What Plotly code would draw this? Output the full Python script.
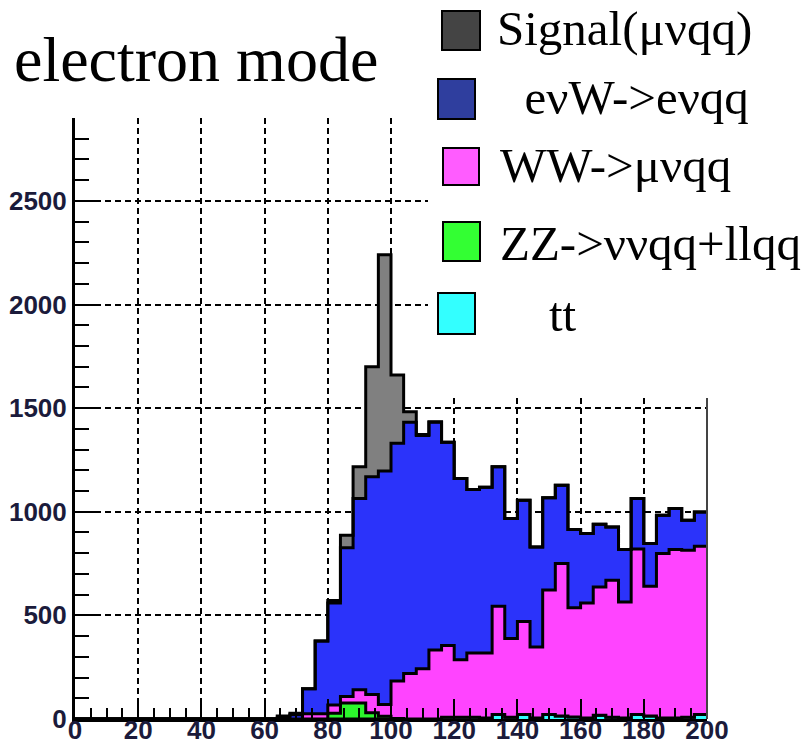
import plotly.graph_objects as go

# ---- data: 4-unit bins from 0 to 200 (bin low edges) ----
BIN_LOW = list(range(0, 200, 4))
X_MAX = 200

tt = [0]*20 + [0, 0, 0, 0, 0, 0, 0, 0, 0, 8] + \
     [8, 8, 5, 22, 8, 22, 5, 22, 15, 10] + [5, 18, 8, 5, 22, 15, 5, 5, 8, 22]
zz = [0]*20 + [28, 77, 77, 30, 13, 3, 0, 0, 0, 0] + [0]*20
ww = [0]*10 + [0, 0, 0, 0, 0, 0, 0, 0, 25, 25] + \
     [39, 32, 64, 88, 57, 180, 220, 242, 333, 347] + \
     [278, 311, 314, 522, 380, 448, 342, 600, 735, 527] + \
     [555, 619, 661, 560, 798, 625, 793, 813, 806, 812]
enuw = [0]*10 + [0, 0, 0, 0, 0, 0, 5, 20, 121, 351] + \
       [493, 717, 923, 1051, 1127, 1147, 1212, 1126, 1099, 981] + \
       [874, 789, 799, 673, 579, 586, 483, 446, 378, 377] + \
       [335, 303, 258, 253, 244, 207, 185, 198, 145, 165]
signal = [0]*10 + [0, 0, 0, 0, 0, 0, 10, 8, 0, 0] + \
         [12, 61, 153, 531, 1043, 330, 51, 5, 2, 0] + [0]*20

SERIES = [
    ("tt", tt, "#33ffff"),
    ("ZZ->ννqq+llqq", zz, "#2cf52c"),
    ("WW->μνqq", ww, "#ff44ff"),
    ("eνW->eνqq", enuw, "#2b33fa"),
    ("Signal(μνqq)", signal, "#808080"),
]

LEGEND = [
    ("Signal(μνqq)", "#444444"),
    ("  eνW->eνqq", "#2f3e9e"),
    ("WW->μνqq", "#ff5cff"),
    ("ZZ->ννqq+llqq", "#33ff33"),
    ("    tt", "#33ffff"),
]

Y_MAX = 2900
W, H = 811, 747
ML, MR, MT, MB = 75, 104, 118, 28

fig = go.Figure()
xs = BIN_LOW + [X_MAX]
for name, vals, col in SERIES:
    fig.add_trace(go.Scatter(
        x=xs, y=list(vals) + [vals[-1]], name=name,
        mode="lines", line=dict(shape="hv", color="black", width=3),
        stackgroup="one", fillcolor=col, showlegend=False, hoverinfo="skip"))

pw, ph = W - ML - MR, H - MT - MB
def px2x(p):
    return (p - ML) / pw
def px2y(p):
    return (H - MB - p) / ph

shapes = []
# opaque legend box (covers grid lines in the upper right)
shapes.append(dict(type="rect", xref="paper", yref="paper", layer="above",
                   x0=px2x(428), x1=px2x(900), y0=px2y(398), y1=px2y(-50),
                   fillcolor="white", line=dict(width=0)))
# right frame edge below legend box
shapes.append(dict(type="line", xref="paper", yref="paper",
                   x0=1, x1=1, y0=0, y1=px2y(398),
                   line=dict(color="#444444", width=2)))

legend_rows = [  # square x0,x1,y0,y1 ; text x ; text center y
    (442, 480, 11, 50, 495, 29),
    (438, 475, 79, 119, 498, 97),
    (443, 479, 148, 185, 498, 165),
    (443, 480, 222, 261, 498, 243),
    (438, 475, 293, 334, 498, 314),
]
annotations = []
for (label, col), (x0, x1, y0, y1, tx, ty) in zip(LEGEND, legend_rows):
    shapes.append(dict(type="rect", xref="paper", yref="paper",
                       x0=px2x(x0), x1=px2x(x1), y0=px2y(y1), y1=px2y(y0),
                       fillcolor=col, line=dict(color="black", width=2)))
    annotations.append(dict(text=label, xref="paper", yref="paper",
                            x=px2x(tx), y=px2y(ty), xanchor="left", yanchor="middle",
                            showarrow=False,
                            font=dict(family="Liberation Serif", size=49, color="black")))

annotations.append(dict(text="electron mode", xref="paper", yref="paper",
                        x=px2x(12), y=px2y(59), xanchor="left", yanchor="middle",
                        showarrow=False,
                        font=dict(family="Liberation Serif", size=64, color="black")))

tickfont = dict(family="Liberation Sans", size=26, color="#1b1b3b", weight="bold")
grid = dict(showgrid=True, gridcolor="black", griddash="6px,4px", gridwidth=2)

fig.update_layout(
    width=W, height=H, margin=dict(l=ML, r=MR, t=MT, b=MB, autoexpand=False),
    paper_bgcolor="white", plot_bgcolor="white",
    shapes=shapes, annotations=annotations, showlegend=False,
    xaxis=dict(range=[0, X_MAX], dtick=20, tick0=0, ticks="inside", ticklen=20,
               tickwidth=2, tickcolor="black", showline=True, linewidth=3,
               linecolor="black", zeroline=False, tickfont=tickfont, automargin=False,
               ticklabelstandoff=-14,
               minor=dict(ticks="inside", ticklen=11, dtick=5, tickwidth=2,
                          tickcolor="black", showgrid=False), **grid),
    yaxis=dict(range=[0, Y_MAX], dtick=500, tick0=0, ticks="inside", ticklen=26,
               tickwidth=2, tickcolor="black", showline=True, linewidth=3,
               linecolor="black", zeroline=False, tickfont=tickfont, automargin=False,
               minor=dict(ticks="inside", ticklen=14, dtick=100, tickwidth=2,
                          tickcolor="black", showgrid=False), **grid),
)

fig.write_html("out.html", config={"displayModeBar": False},
               post_script="document.body.style.margin='0';document.body.style.overflow='hidden';")
